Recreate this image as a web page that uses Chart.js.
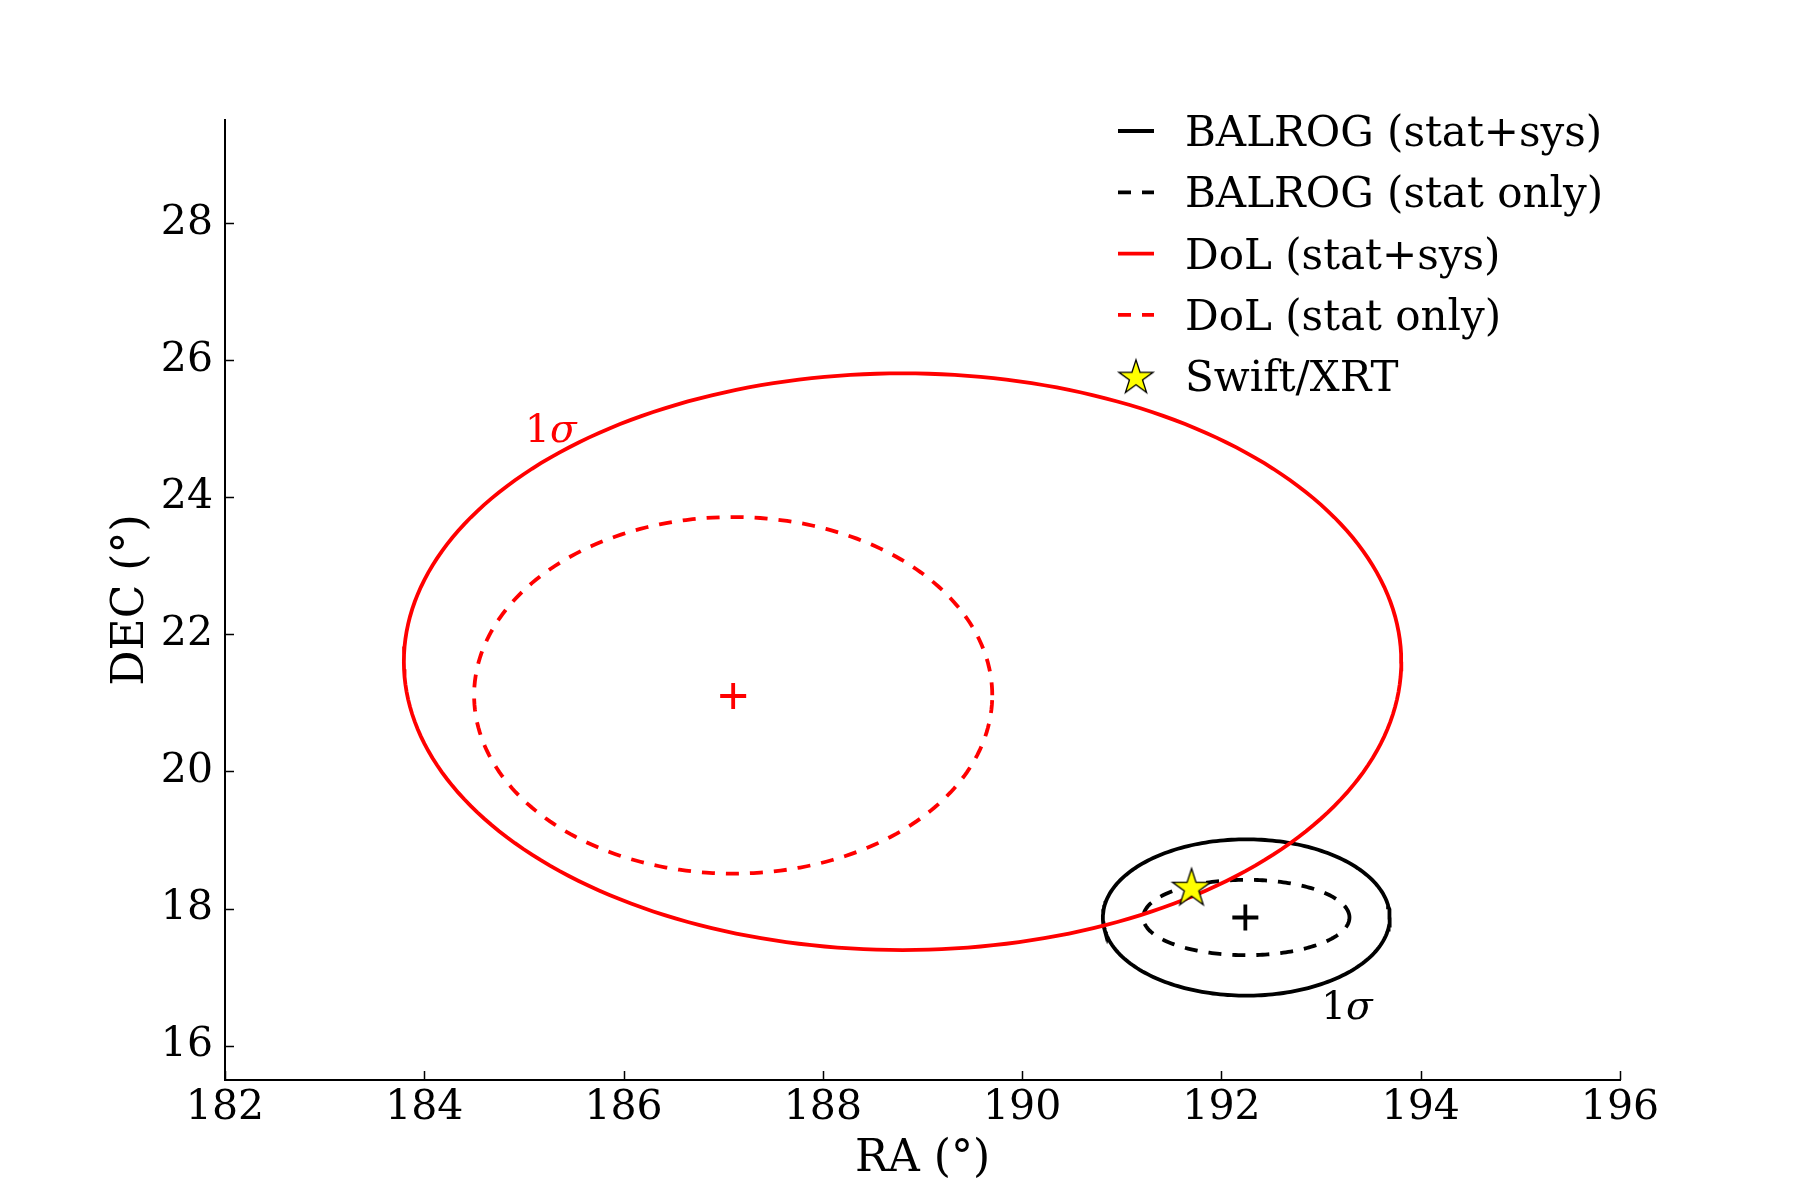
<!DOCTYPE html>
<html>
<head>
<meta charset="utf-8">
<script src="https://cdn.jsdelivr.net/npm/chart.js@4.4.1/dist/chart.umd.min.js"></script>
<style>
  html, body { margin: 0; padding: 0; background: #fff; }
  #wrap { width: 1800px; height: 1200px; }
</style>
</head>
<body>
<div id="wrap"><canvas id="myGraph" width="1800" height="1200"></canvas></div>
<script>
// ejes
const raTicks = [182, 184, 186, 188, 190, 192, 194, 196];
const decTicks = [16, 18, 20, 22, 24, 26, 28];
const raRange = [182, 196];
const decRange = [15.5, 29.5];

// elipses 1 sigma: centro y semiejes (grados)
const ellipseNames = ['BALROG (stat+sys)', 'BALROG (stat only)', 'DoL (stat+sys)', 'DoL (stat only)'];
const ellipseCenterRA = [192.25, 192.25, 188.80, 187.10];
const ellipseCenterDEC = [17.87, 17.87, 21.60, 21.11];
const ellipseHalfRA = [1.44, 1.035, 5.005, 2.60];
const ellipseHalfDEC = [1.14, 0.55, 4.205, 2.60];

// centros marcados con +
const centerRA = [192.24, 187.10];
const centerDEC = [17.87, 21.10];

// Swift/XRT
const xrtName = 'Swift/XRT';
const xrtRA = [191.70];
const xrtDEC = [18.32];

// etiquetas "1σ"
const sigmaRA = [185.27, 193.26];
const sigmaDEC = [25.02, 16.61];

// estilos
const ellipseColors = ['#000000', '#000000', '#ff0000', '#ff0000'];
const ellipseDash = [[], [13, 11], [], [13, 11]];
const sigmaColors = ['#ff0000', '#000000'];
const centerColors = ['#000000', '#ff0000'];
const FONT = "'DejaVu Serif', 'Liberation Serif', serif";

Chart.defaults.font.family = FONT;
Chart.defaults.font.size = 41;
Chart.defaults.color = '#000';

function ellipsePoints(i) {//contorno a partir del centro y semiejes leidos
    const pts = [];
    for (let k = 0; k <= 240; k++) {
        const t = 2 * Math.PI * k / 240;
        pts.push({
            x: ellipseCenterRA[i] + ellipseHalfRA[i] * Math.cos(t),
            y: ellipseCenterDEC[i] + ellipseHalfDEC[i] * Math.sin(t)
        });
    }
    return pts;
}

function makeStar(r) {
    const c = document.createElement('canvas');
    const s = Math.ceil(r * 2 + 4);
    c.width = s; c.height = s;
    const g = c.getContext('2d');
    g.beginPath();
    for (let k = 0; k < 10; k++) {
        const rr = k % 2 ? r * 0.382 : r;
        const a = -Math.PI / 2 + k * Math.PI / 5;
        const px = s / 2 + rr * Math.cos(a), py = s / 2 + rr * Math.sin(a) + r * 0.09;
        if (k) g.lineTo(px, py); else g.moveTo(px, py);
    }
    g.closePath();
    g.fillStyle = '#ffff00';
    g.fill();
    g.lineWidth = 1.3;
    g.strokeStyle = '#000';
    g.stroke();
    return c;
}
const starImg = makeStar(20);
const starLegend = makeStar(18);

const datasets = [];
for (let i = 0; i < ellipseNames.length; i++) {
    datasets.push({
        label: ellipseNames[i],
        data: ellipsePoints(i),
        showLine: true,
        fill: false,
        borderColor: ellipseColors[i],
        borderWidth: 3.8,
        borderDash: ellipseDash[i],
        pointRadius: 0,
        tension: 0,
        order: ellipseColors[i] === '#ff0000' ? 1 : 2
    });
}
datasets.push({
    label: 'centros',
    data: centerRA.map((x, i) => ({x: x, y: centerDEC[i]})),
    pointStyle: 'cross',
    pointRadius: 13,
    pointBorderWidth: 3.8,
    pointBorderColor: centerColors,
    showLine: false,
    order: 1
});
datasets.push({
    label: xrtName,
    data: xrtRA.map((x, i) => ({x: x, y: xrtDEC[i]})),
    pointStyle: starImg,
    pointRadius: 20,
    showLine: false,
    order: 0
});

// ticks hacia dentro (estilo matplotlib)
const innerTicks = {
    id: 'innerTicks',
    afterDraw(chart) {
        const ctx = chart.ctx, a = chart.chartArea;
        const sx = chart.scales.x, sy = chart.scales.y;
        ctx.save();
        ctx.strokeStyle = '#000';
        ctx.lineWidth = 1.5;
        ctx.beginPath();
        raTicks.forEach(v => {
            const px = Math.round(sx.getPixelForValue(v)) + 0.5;
            ctx.moveTo(px, a.bottom);
            ctx.lineTo(px, a.bottom - 9);
        });
        decTicks.forEach(v => {
            const py = Math.round(sy.getPixelForValue(v)) + 0.5;
            ctx.moveTo(a.left, py);
            ctx.lineTo(a.left + 9, py);
        });
        ctx.stroke();
        ctx.restore();
    }
};

// etiquetas 1 sigma
const sigmaLabels = {
    id: 'sigmaLabels',
    afterDatasetsDraw(chart) {
        const ctx = chart.ctx;
        const sx = chart.scales.x, sy = chart.scales.y;
        ctx.save();
        ctx.textBaseline = 'alphabetic';
        sigmaRA.forEach((v, i) => {
            const px = sx.getPixelForValue(v), py = sy.getPixelForValue(sigmaDEC[i]);
            ctx.fillStyle = sigmaColors[i];
            ctx.font = '39px ' + FONT;
            const w1 = ctx.measureText('1').width;
            ctx.font = 'italic 39px ' + FONT;
            const w2 = ctx.measureText('σ').width;
            const x0 = px - (w1 + w2) / 2;
            ctx.font = '39px ' + FONT;
            ctx.fillText('1', x0, py + 15);
            ctx.font = 'italic 39px ' + FONT;
            ctx.fillText('σ', x0 + w1, py + 15);
        });
        ctx.restore();
    }
};

// leyenda sin marco arriba a la derecha
const plainLegend = {
    id: 'plainLegend',
    afterDraw(chart) {
        const ctx = chart.ctx;
        const x0 = 1118, x1 = 1154, tx = 1185, y0 = 131, dy = 61.3;
        ctx.save();
        ctx.font = '42px ' + FONT;
        ctx.textBaseline = 'alphabetic';
        ctx.fillStyle = '#000';
        ellipseNames.forEach((name, i) => {
            const y = y0 + i * dy;
            ctx.strokeStyle = ellipseColors[i];
            ctx.lineWidth = 3.8;
            ctx.setLineDash(ellipseDash[i]);
            ctx.beginPath();
            ctx.moveTo(x0, y);
            ctx.lineTo(x1, y);
            ctx.stroke();
            ctx.fillText(name, tx, y + 15);
        });
        const ys = y0 + 4 * dy;
        ctx.drawImage(starLegend, (x0 + x1) / 2 - starLegend.width / 2, ys - starLegend.height / 2);
        ctx.fillText(xrtName, tx, ys + 15);
        ctx.restore();
    }
};

const ctx = document.getElementById('myGraph').getContext('2d');
const myGraph = new Chart(ctx, {
    type: 'scatter',
    data: { datasets: datasets },
    options: {
        responsive: false,
        animation: false,
        layout: { padding: { left: 0, right: 180, top: 120, bottom: 0 } },
        plugins: { legend: { display: false }, tooltip: { enabled: false } },
        scales: {
            x: {
                type: 'linear',
                min: raRange[0],
                max: raRange[1],
                afterBuildTicks: s => { s.ticks = raTicks.map(v => ({value: v})); },
                afterFit: s => { s.height = 120; },
                grid: { display: false },
                border: { display: true, color: '#000', width: 2 },
                ticks: { padding: 0, color: '#000', font: { size: 41, lineHeight: 1 } },
                title: { display: true, text: 'RA (°)', color: '#000', font: { size: 44 }, padding: { top: 0, bottom: 14 } }
            },
            y: {
                type: 'linear',
                min: decRange[0],
                max: decRange[1],
                afterBuildTicks: s => { s.ticks = decTicks.map(v => ({value: v})); },
                afterFit: s => { s.width = 225; },
                grid: { display: false },
                border: { display: true, color: '#000', width: 2 },
                ticks: { padding: 4, color: '#000', font: { size: 41 } },
                title: { display: true, text: 'DEC (°)', color: '#000', font: { size: 44 }, padding: { top: 105, bottom: 0 } }
            }
        }
    },
    plugins: [innerTicks, sigmaLabels, plainLegend]
});
</script>
</body>
</html>
